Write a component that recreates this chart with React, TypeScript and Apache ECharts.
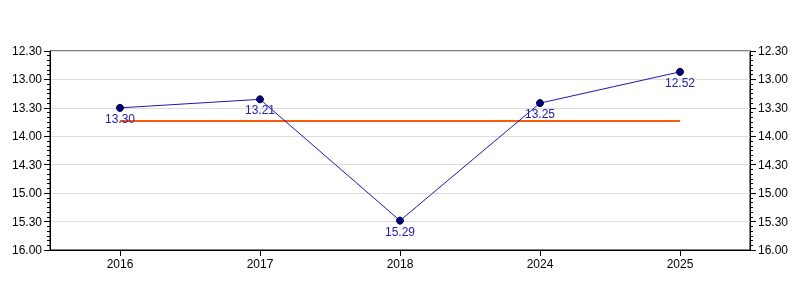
import React, { useEffect, useRef } from "react";
import * as echarts from "echarts";

const categories = ["2016", "2017", "2018", "2024", "2025"];
const times = ["13.30", "13.21", "15.29", "13.25", "12.52"];
const averageTime = "13.44";
const yMinLabel = "12.30";
const yMaxLabel = "16.00";

const toMinutes = (s: string) => {
  const [h, m] = s.split(".");
  return Number(h) * 60 + Number(m);
};
const fmt = (v: number) => {
  const h = Math.floor(v / 60);
  const m = Math.round(v - h * 60);
  return h + "." + String(m).padStart(2, "0");
};

const values = times.map(toMinutes);
const avgValues = categories.map(() => toMinutes(averageTime));

export default function App() {
  const ref = useRef<HTMLDivElement>(null);
  useEffect(() => {
    if (!ref.current) return;
    const chart = echarts.init(ref.current, undefined, { renderer: "svg" });
    const yAxisBase = (pos: "left" | "right") => ({
      type: "value" as const,
      position: pos,
      inverse: true,
      min: toMinutes(yMinLabel),
      max: toMinutes(yMaxLabel),
      interval: 30,
      axisLine: { show: true, lineStyle: { color: "#000", width: 1 } },
      axisTick: { show: true, length: 6, lineStyle: { color: "#000" } },
      minorTick: { show: true, splitNumber: 6, length: 3, lineStyle: { color: "#000" } },
      splitLine: { show: pos === "left", lineStyle: { color: "#dddddd", width: 1 } },
      axisLabel: {
        formatter: (v: number) => fmt(v),
        color: "#000",
        fontSize: 12,
        fontFamily: "Liberation Sans, Arial, sans-serif",
        margin: 8,
      },
    });
    chart.setOption({
      animation: false,
      grid: {
        left: 50,
        right: 50,
        top: 51,
        bottom: 50,
        show: true,
        borderColor: "#000",
        borderWidth: 1,
        backgroundColor: "transparent",
      },
      xAxis: {
        type: "category",
        data: categories,
        boundaryGap: true,
        axisLine: { show: true, lineStyle: { color: "#000" } },
        axisTick: { show: true, alignWithLabel: true, length: 6, lineStyle: { color: "#000" } },
        splitLine: { show: false },
        axisLabel: {
          color: "#000",
          fontSize: 12,
          fontFamily: "Liberation Sans, Arial, sans-serif",
          margin: 8,
        },
      },
      yAxis: [yAxisBase("left"), yAxisBase("right")],
      series: [
        {
          type: "line",
          data: avgValues,
          symbol: "none",
          lineStyle: { color: "#ff5a0a", width: 2 },
          z: 1,
          silent: true,
        },
        {
          type: "line",
          data: values,
          symbol: "circle",
          symbolSize: 7,
          itemStyle: { color: "#000080", borderColor: "#000033", borderWidth: 1 },
          lineStyle: { color: "#1a1ab0", width: 1 },
          label: {
            show: true,
            position: "bottom",
            distance: 1,
            formatter: (p: any) => fmt(p.value),
            color: "#2222aa",
            fontSize: 12,
            fontFamily: "Liberation Sans, Arial, sans-serif",
          },
          z: 3,
        },
      ],
    });
    return () => chart.dispose();
  }, []);
  return (
    <div
      ref={ref}
      style={{ position: "fixed", left: 0, top: 0, width: 800, height: 300 }}
    />
  );
}
